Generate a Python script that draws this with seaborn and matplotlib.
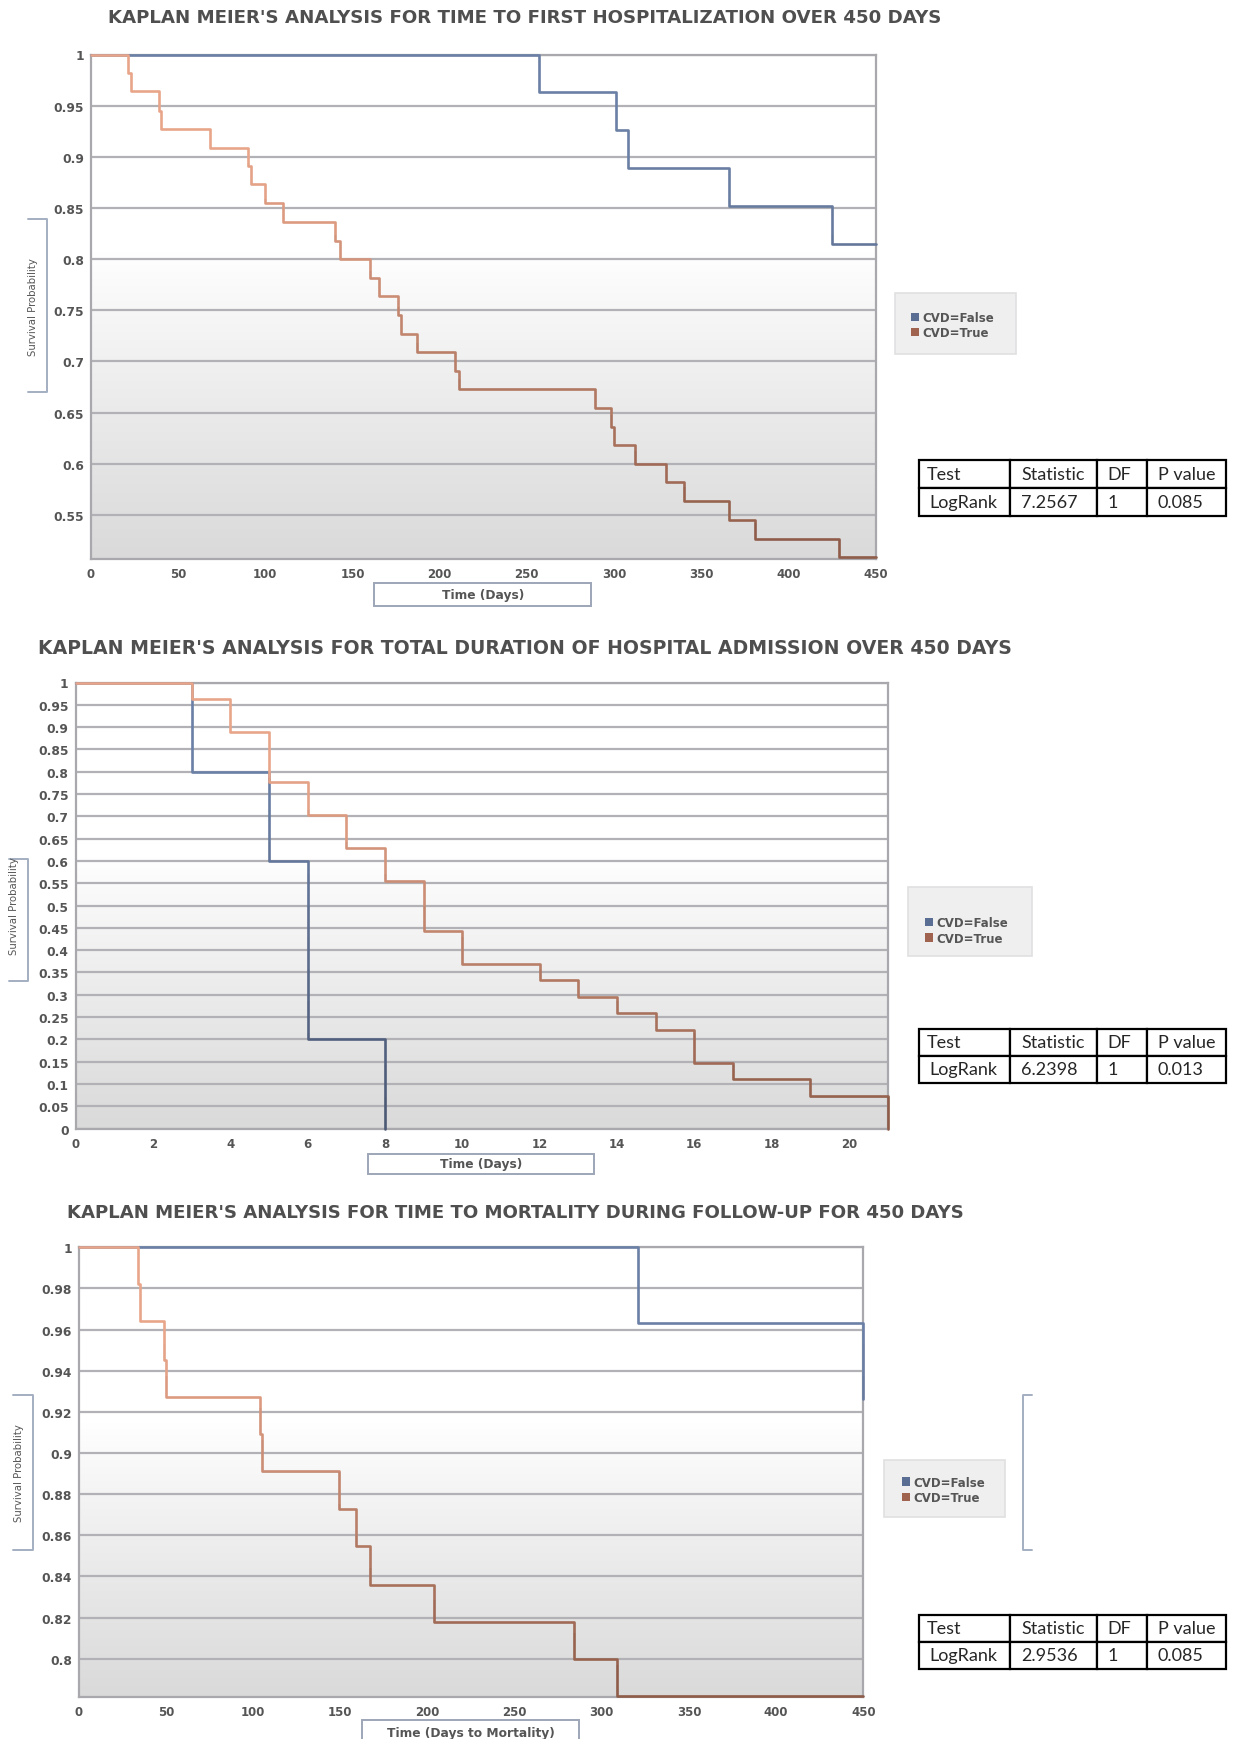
#Kaplan-Meier survival curves for the CVD cohort, three outcomes over 450 days.

import matplotlib.pyplot as plt
import numpy as np
import pandas as pd
import seaborn as sns
from matplotlib.colors import to_rgb
from matplotlib.lines import Line2D
from matplotlib.patches import Patch, Rectangle

# panel 1: time to first hospitalization
hosp_false_days = [0, 257, 301, 308, 366, 425, 450]
hosp_false_surv = [1.0, 0.963, 0.926, 0.889, 0.852, 0.815, 0.815]
hosp_true_days = [0, 21, 23, 39, 40, 68, 90, 92, 100, 110, 140, 143, 160, 165, 176,
                  178, 187, 209, 211, 289, 298, 300, 312, 330, 340, 366, 381, 429, 450]
hosp_true_surv = [1.0, 0.982, 0.964, 0.945, 0.927, 0.909, 0.891, 0.873, 0.855, 0.836,
                  0.818, 0.800, 0.782, 0.764, 0.745, 0.727, 0.709, 0.691, 0.673, 0.655,
                  0.636, 0.618, 0.600, 0.582, 0.564, 0.545, 0.527, 0.509, 0.509]

# panel 2: total duration of hospital admission
stay_false_days = [0, 3, 5, 6, 8]
stay_false_surv = [1.0, 0.8, 0.6, 0.2, 0.0]
stay_true_days = [0, 3, 4, 5, 6, 7, 8, 9, 10, 12, 13, 14, 15, 16, 17, 19, 21]
stay_true_surv = [1.0, 0.963, 0.889, 0.778, 0.704, 0.630, 0.556, 0.444, 0.370, 0.333,
                  0.296, 0.259, 0.222, 0.148, 0.111, 0.074, 0.0]

# panel 3: time to mortality
mort_false_days = [0, 321, 450]
mort_false_surv = [1.0, 0.963, 0.926]
mort_true_days = [0, 34, 35, 49, 50, 104, 105, 149, 159, 167, 204, 284, 309, 450]
mort_true_surv = [1.0, 0.982, 0.964, 0.945, 0.927, 0.909, 0.891, 0.873, 0.855, 0.836,
                  0.818, 0.800, 0.782, 0.782]

group_names = ["CVD=False", "CVD=True"]

titles = [
    "KAPLAN MEIER'S ANALYSIS FOR TIME TO FIRST HOSPITALIZATION OVER 450 DAYS",
    "KAPLAN MEIER'S ANALYSIS FOR TOTAL DURATION OF HOSPITAL ADMISSION OVER 450 DAYS",
    "KAPLAN MEIER'S ANALYSIS FOR TIME TO MORTALITY DURING FOLLOW-UP FOR 450 DAYS",
]
x_labels = ["Time (Days)", "Time (Days)", "Time (Days to Mortality)"]

days_ticks = [0, 50, 100, 150, 200, 250, 300, 350, 400, 450]
stay_ticks = [0, 2, 4, 6, 8, 10, 12, 14, 16, 18, 20]
hosp_yticks = [1.0, 0.95, 0.9, 0.85, 0.8, 0.75, 0.7, 0.65, 0.6, 0.55]
hosp_ylabels = ["1", "0.95", "0.9", "0.85", "0.8", "0.75", "0.7", "0.65", "0.6", "0.55"]
stay_yticks = [1.0, 0.95, 0.9, 0.85, 0.8, 0.75, 0.7, 0.65, 0.6, 0.55, 0.5,
               0.45, 0.4, 0.35, 0.3, 0.25, 0.2, 0.15, 0.1, 0.05, 0.0]
stay_ylabels = ["1", "0.95", "0.9", "0.85", "0.8", "0.75", "0.7", "0.65", "0.6", "0.55", "0.5",
                "0.45", "0.4", "0.35", "0.3", "0.25", "0.2", "0.15", "0.1", "0.05", "0"]
mort_yticks = [1.0, 0.98, 0.96, 0.94, 0.92, 0.9, 0.88, 0.86, 0.84, 0.82, 0.8]
mort_ylabels = ["1", "0.98", "0.96", "0.94", "0.92", "0.9", "0.88", "0.86", "0.84", "0.82", "0.8"]

table_header = ["Test", "Statistic", "DF", "P value"]
hosp_test = ["LogRank", "7.2567", "1", "0.085"]
stay_test = ["LogRank", "6.2398", "1", "0.013"]
mort_test = ["LogRank", "2.9536", "1", "0.085"]

# curve colours run from light at the top of the plot to dark at the bottom
top_colors = {"CVD=False": "#6b80a6", "CVD=True": "#e8a58a"}
bottom_colors = {"CVD=False": "#4a5773", "CVD=True": "#8a5846"}
legend_colors = {"CVD=False": "#5a6d92", "CVD=True": "#a0634f"}
TEXT_GREY = "#555555"
BRACKET = "#a3afc2"
N_BANDS = 14

sns.set_style("white")
plt.rcParams["font.family"] = ["DejaVu Sans"]

W, H = 1235, 1740
fig = plt.figure(figsize=(W / 100, H / 100), dpi=100)


def fx(px):
    return px / W


def fy(py):
    return 1 - py / H


def add_axes_px(x0, y0, x1, y1):
    return fig.add_axes([fx(x0), fy(y1), fx(x1 - x0), (y1 - y0) / H])


def km_frame(false_days, false_surv, true_days, true_surv):
    parts = [
        pd.DataFrame({"days": false_days, "survival": false_surv, "group": group_names[0]}),
        pd.DataFrame({"days": true_days, "survival": true_surv, "group": group_names[1]}),
    ]
    return pd.concat(parts, ignore_index=True)


def band_palette(frac):
    # frac is the height in the axes (1 = top); darken below ~3/4 of the height
    d = np.clip((0.78 - frac) / 0.78, 0, 1)
    return {
        name: tuple((1 - d) * np.array(to_rgb(top_colors[name])) + d * np.array(to_rgb(bottom_colors[name])))
        for name in group_names
    }


def draw_km(ax, frame, xlim, ylim, xticks, yticks, ylabels):
    # white at the top fading into grey at the bottom
    rows = np.linspace(0, 1, 256)
    shade = np.clip((rows - 0.38) / 0.62, 0, 1) ** 0.9 * 0.15
    overlay = np.zeros((256, 1, 4))
    overlay[:, 0, 3] = shade
    ax.imshow(overlay, extent=[0, 1, 0, 1], transform=ax.transAxes,
              aspect="auto", zorder=0.3, interpolation="bilinear")

    edges = np.linspace(0, 1, N_BANDS + 1)
    for lo, hi in zip(edges[:-1], edges[1:]):
        n_before = len(ax.lines)
        sns.lineplot(data=frame, x="days", y="survival", hue="group",
                     palette=band_palette((lo + hi) / 2), drawstyle="steps-post",
                     estimator=None, sort=False, linewidth=1.9, legend=False, ax=ax, zorder=2.2)
        lo_pad = lo - 0.02 if lo == 0 else lo
        hi_pad = hi + 0.02 if hi == 1 else hi
        band = Rectangle((-0.02, lo_pad), 1.04, hi_pad - lo_pad, transform=ax.transAxes)
        for line in ax.lines[n_before:]:
            line.set_clip_path(band)

    ax.set_xlim(*xlim)
    ax.set_ylim(*ylim)
    ax.set_xticks(xticks)
    ax.set_yticks(yticks, labels=ylabels)
    ax.yaxis.grid(True, color="#b2b2b6", linewidth=1.6)
    ax.xaxis.grid(False)
    ax.set_axisbelow(True)
    ax.set_xlabel("")
    ax.set_ylabel("")
    for side in ax.spines.values():
        side.set_visible(True)
        side.set_color("#a8a8ad")
        side.set_linewidth(1.6)
        side.set_zorder(2.1)
    ax.tick_params(axis="y", length=4, width=1, color="#8a8a8a", pad=1,
                   labelsize=8.8, labelcolor=TEXT_GREY)
    ax.tick_params(axis="x", length=3, width=1, color="#8a8a8a", pad=3,
                   labelsize=8.5, labelcolor=TEXT_GREY)
    for lab in ax.get_xticklabels() + ax.get_yticklabels():
        lab.set_fontweight("bold")


def right_bracket(x0, x1, y0, y1):
    fig.add_artist(Line2D([fx(x0), fx(x1), fx(x1), fx(x0)], [fy(y0), fy(y0), fy(y1), fy(y1)],
                          color=BRACKET, linewidth=1.4))


def left_bracket(x0, x1, y0, y1):
    fig.add_artist(Line2D([fx(x1), fx(x0), fx(x0), fx(x1)], [fy(y0), fy(y0), fy(y1), fy(y1)],
                          color=BRACKET, linewidth=1.4))


def x_label_box(text, x0, x1, y0, y1):
    fig.add_artist(Rectangle((fx(x0), fy(y1)), fx(x1 - x0), (y1 - y0) / H,
                             transform=fig.transFigure, facecolor="white",
                             edgecolor="#9ca6b8", linewidth=1.4))
    fig.text(fx((x0 + x1) / 2), fy((y0 + y1) / 2), text, ha="center", va="center",
             fontsize=8.8, fontweight="bold", color=TEXT_GREY)


def legend_box(x0, x1, y0, y1, entry_x, entry_y):
    fig.add_artist(Rectangle((fx(x0), fy(y1)), fx(x1 - x0), (y1 - y0) / H,
                             transform=fig.transFigure, facecolor="#efeff0",
                             edgecolor="#e0e0e2", linewidth=1.2, zorder=1))
    handles = [Patch(facecolor=legend_colors[name], edgecolor="none", label=name)
               for name in group_names]
    leg = fig.legend(handles=handles, loc="center left", bbox_to_anchor=(fx(entry_x), fy(entry_y)),
                     frameon=False, fontsize=8.5, handlelength=0.7, handleheight=0.7,
                     handletextpad=0.3, labelspacing=0.2, borderpad=0, borderaxespad=0)
    leg.set_zorder(5)
    for t in leg.get_texts():
        t.set_color(TEXT_GREY)
        t.set_fontweight("bold")


def stats_table(row, x0, x1, y0, y1):
    tab_ax = add_axes_px(x0, y0, x1, y1)
    tab_ax.axis("off")
    widths = [0.297, 0.282, 0.163, 0.258]
    table = tab_ax.table(cellText=[table_header, row], colWidths=widths,
                         cellLoc="left", bbox=[0, 0, 1, 1])
    table.auto_set_font_size(False)
    for (r, c), cell in table.get_celld().items():
        cell.set_linewidth(1.6)
        cell.set_edgecolor("black")
        cell.get_text().set_fontsize(13)
        cell.get_text().set_fontfamily(["Lato", "DejaVu Sans"])
        pad_px = 8 if (r, c) == (0, 0) else 11
        cell.PAD = pad_px / (widths[c] * (x1 - x0))


# --- panel 1 ---
ax1 = add_axes_px(91, 55.5, 875.5, 560)
draw_km(ax1, km_frame(hosp_false_days, hosp_false_surv, hosp_true_days, hosp_true_surv),
        (0, 450), (0.507, 1.0), days_ticks, hosp_yticks, hosp_ylabels)
fig.text(fx(525), fy(17.8), titles[0], ha="center", va="center", fontsize=13.15,
         fontweight="bold", color="#4f4f4f")
right_bracket(27.7, 46.6, 219.7, 392.8)
fig.text(fx(33), fy(307), "Survival Probability", rotation=90, ha="center", va="center",
         fontsize=7.3, color=TEXT_GREY)
x_label_box(x_labels[0], 374, 591.4, 583.6, 607)
legend_box(895.5, 1016.4, 294, 355, 911, 326)
stats_table(hosp_test, 918.7, 1226, 460.5, 517)

# --- panel 2 ---
ax2 = add_axes_px(75.5, 683.5, 887.7, 1129.6)
draw_km(ax2, km_frame(stay_false_days, stay_false_surv, stay_true_days, stay_true_surv),
        (0, 21), (0, 1.0), stay_ticks, stay_yticks, stay_ylabels)
fig.text(fx(525), fy(648), titles[1], ha="center", va="center", fontsize=13.6,
         fontweight="bold", color="#4f4f4f")
right_bracket(8.9, 27.7, 860, 982)
fig.text(fx(14.5), fy(906.5), "Survival Probability", rotation=90, ha="center", va="center",
         fontsize=7.3, color=TEXT_GREY)
x_label_box(x_labels[1], 368.4, 593.6, 1155, 1175)
legend_box(907.6, 1032, 887.7, 956.5, 925, 931.5)
stats_table(stay_test, 918.7, 1226, 1029.7, 1084)

# --- panel 3 ---
ax3 = add_axes_px(78.8, 1248.3, 863.3, 1697.7)
draw_km(ax3, km_frame(mort_false_days, mort_false_surv, mort_true_days, mort_true_surv),
        (0, 450), (0.7815, 1.0), days_ticks, mort_yticks, mort_ylabels)
fig.text(fx(515), fy(1212.8), titles[2], ha="center", va="center", fontsize=13.1,
         fontweight="bold", color="#4f4f4f")
right_bracket(13.3, 33.3, 1396, 1551)
left_bracket(1023, 1032, 1396, 1551)
fig.text(fx(19), fy(1473.5), "Survival Probability", rotation=90, ha="center", va="center",
         fontsize=7.3, color=TEXT_GREY)
x_label_box(x_labels[2], 361.7, 579.2, 1721, 1746)
legend_box(884, 1005, 1461, 1518, 902, 1490.8)
stats_table(mort_test, 918.7, 1226, 1615.6, 1670)

fig.savefig("out.png", dpi=100)
plt.close(fig)
